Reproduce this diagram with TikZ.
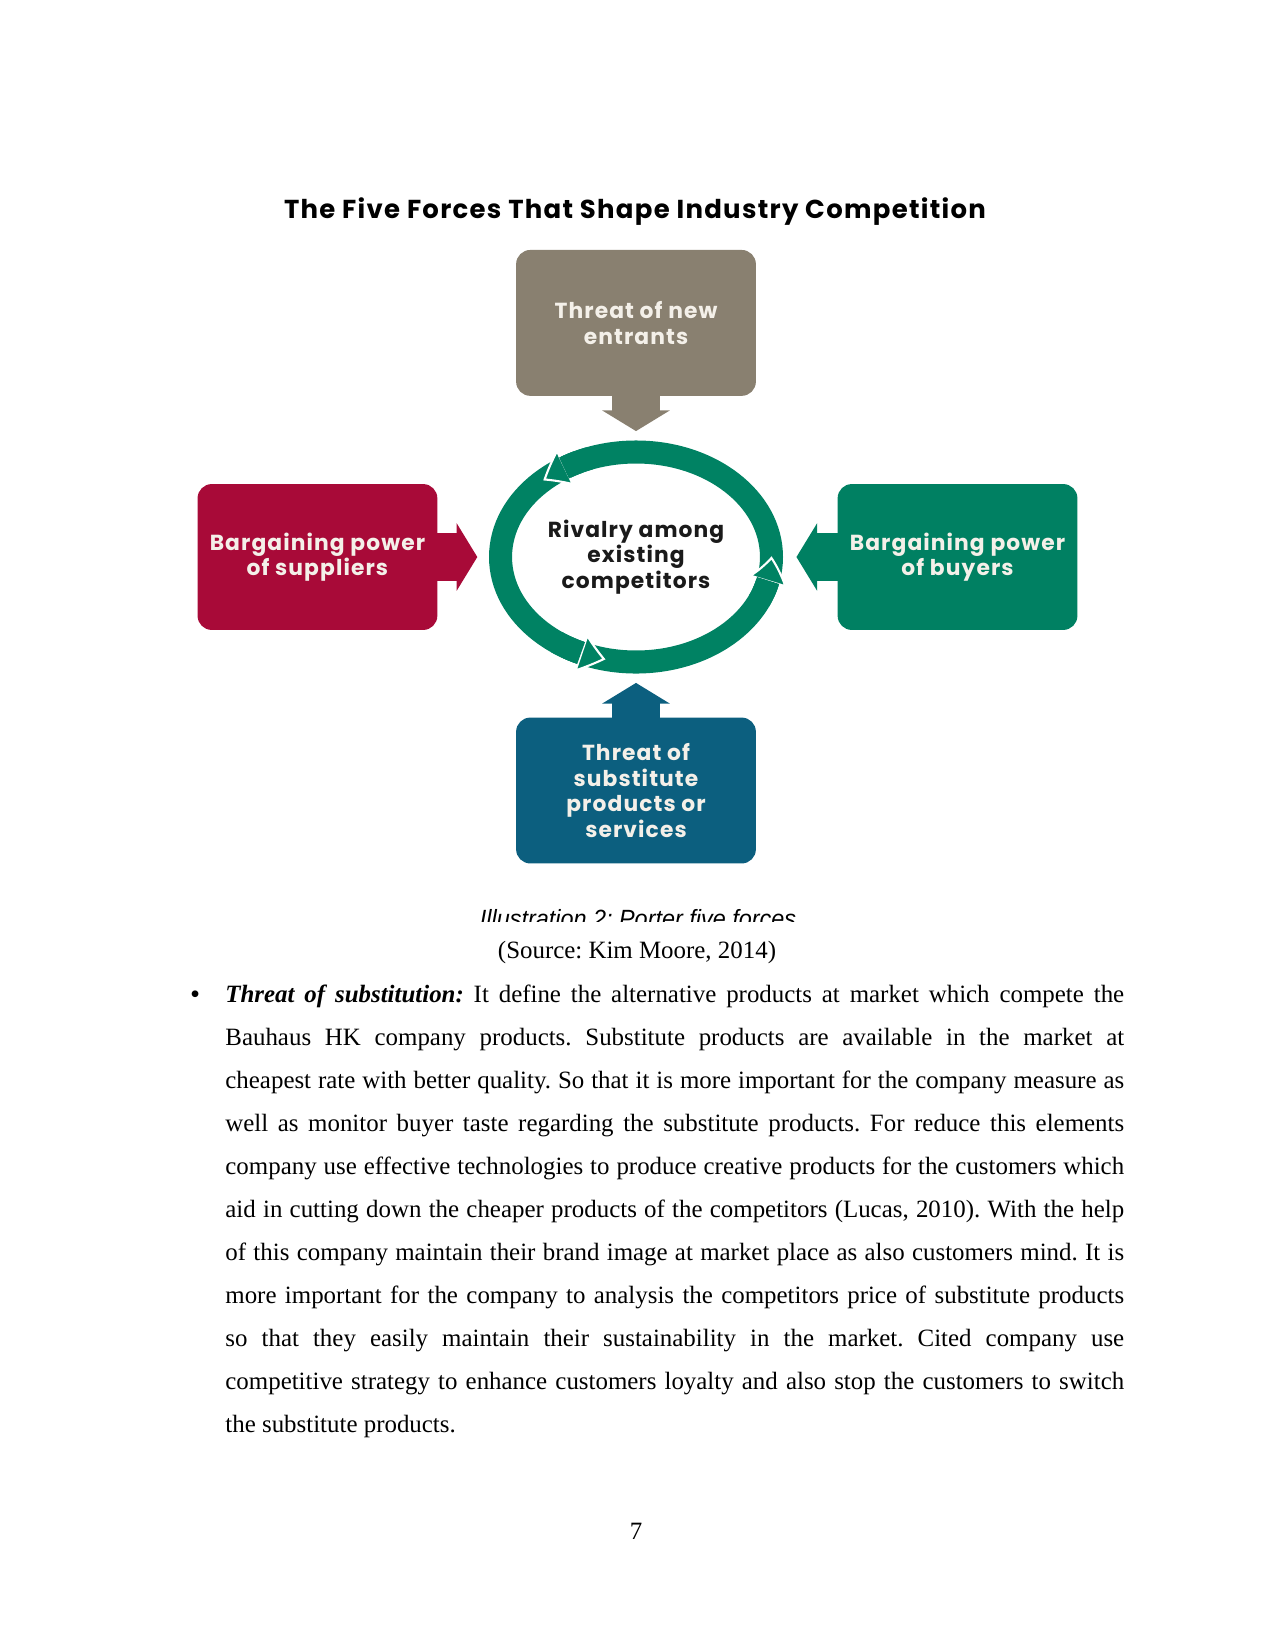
\documentclass[tikz,border=0pt]{standalone}
\usepackage{fontspec}
\setmainfont{Liberation Serif}
\setsansfont{Liberation Sans}
\newfontfamily\forcefont[LetterSpace=5]{Poppins}
\usetikzlibrary{arrows.meta,bending,positioning,shapes.geometric,calc}

\definecolor{entrantgray}{RGB}{137,128,112}
\definecolor{supplierred}{RGB}{168,10,56}
\definecolor{buyergreen}{RGB}{0,128,98}
\definecolor{ringgreen}{RGB}{0,130,99}
\definecolor{substituteblue}{RGB}{12,95,127}
\definecolor{boxtext}{RGB}{244,240,233}
\definecolor{rivalrytext}{RGB}{26,26,26}
\frenchspacing

\begin{document}
\begin{tikzpicture}[
  x=0.16933mm, y=0.16933mm,
  force/.style={rounded corners=2.4mm, minimum width=40.6mm, minimum height=24.7mm, inner sep=0pt,
    align=center, text=boxtext, font=\forcefont\bfseries\fontsize{10.5}{12.3}\selectfont},
  push/.style={line width=8.1mm, -{Triangle[length=3.5mm, width=11.3mm]}},
  ring/.style={line width=3.9mm, draw=ringgreen},
  ringhead/.style={-{Triangle[bend, length=4.4mm, width=6.8mm, fill=ringgreen, color=white, line width=1pt]}},
  body/.style={font=\fontsize{12}{20.74}\selectfont}
]
\useasboundingbox (0,0) rectangle (1275,-1650);

% title and centre
\node[font=\forcefont\bfseries\fontsize{12.5}{14}\selectfont, anchor=base] (title) at (635,-218)
  {The Five Forces That Shape Industry Competition};
\node[ellipse, minimum width=49.8mm, minimum height=39.5mm, inner sep=0pt, align=center,
  text=rivalrytext, font=\forcefont\bfseries\fontsize{10.5}{12.3}\selectfont] (rivalry) at (636,-557)
  {Rivalry among\\existing\\competitors};

% the four forces
\node[force, fill=entrantgray, above=7.4mm of rivalry] (entrants) {Threat of new\\entrants};
\node[force, fill=substituteblue, below=7.3mm of rivalry] (substitutes) {Threat of\\substitute\\products or\\services};
\node[force, fill=supplierred, left=8.6mm of rivalry] (suppliers) {Bargaining power\\of suppliers};
\node[force, fill=buyergreen, right=9.1mm of rivalry] (buyers) {Bargaining power\\of buyers};

\draw[push, draw=entrantgray] ([yshift=0.5mm]entrants.south) -- ([yshift=1.5mm]rivalry.north);
\draw[push, draw=substituteblue] ([yshift=-0.5mm]substitutes.north) -- ([yshift=-1.5mm]rivalry.south);
\draw[push, draw=supplierred] ([xshift=-0.5mm]suppliers.east) -- ($(suppliers.east -| rivalry.west)+(-1.9mm,0)$);
\draw[push, draw=buyergreen] ([xshift=0.5mm]buyers.west) -- ($(buyers.west -| rivalry.east)+(2.2mm,0)$);

% rivalry ring: whole ring, then the three heads, then cover the backs of the heads
\draw[ring] (rivalry.center) ellipse[x radius=22.94mm, y radius=17.78mm];
\foreach \from/\to in {110/133.2, 234/257, 335/360.4}
  \draw[ring, ringhead] (rivalry.center) ++(\from:22.94mm and 17.78mm)
    arc[start angle=\from, end angle=\to, x radius=22.94mm, y radius=17.78mm];
\foreach \from/\to in {115/122.1, 239/246.1, 340/347.1}
  \draw[ring] (rivalry.center) ++(\from:22.94mm and 17.78mm)
    arc[start angle=\from, end angle=\to, x radius=22.94mm, y radius=17.78mm];

% caption, cut off at the bottom
\begin{scope}
  \clip (300,-880) rectangle (980,-921);
  \node[font=\sffamily\itshape\fontsize{12}{14}\selectfont, anchor=base] (caption) at (638,-927)
    {\scalebox{0.94}[1]{Illustration 2: Porter five forces}};
\end{scope}
\node[body, anchor=base] (source) at (637,-958) {(Source: Kim Moore, 2014)};

% text below
\node[body, anchor=base] (bullet) at (195,-1002) {\textbf{\textit{•}}};
\node[body, text width=433pt, align=justify, anchor=base west, inner sep=0pt] (substitution) at (225,-1002)
  {\textbf{\textit{Threat of substitution:}} It define the alternative products at market which compete the\linebreak
  Bauhaus HK company products. Substitute products are available in the market at\linebreak
  cheapest rate with better quality. So that it is more important for the company measure as\linebreak
  well as monitor buyer taste regarding the substitute products. For reduce this elements\linebreak
  company use effective technologies to produce creative products for the customers which\linebreak
  aid in cutting down the cheaper products of the competitors (Lucas, 2010). With the help\linebreak
  of this company maintain their brand image at market place as also customers mind. It is\linebreak
  more important for the company to analysis the competitors price of substitute products\linebreak
  so that they easily maintain their sustainability in the market. Cited company use\linebreak
  competitive strategy to enhance customers loyalty and also stop the customers to switch\linebreak
  the substitute products.};
\node[body, anchor=base] (pageno) at (636,-1539) {7};
\end{tikzpicture}
\end{document}
